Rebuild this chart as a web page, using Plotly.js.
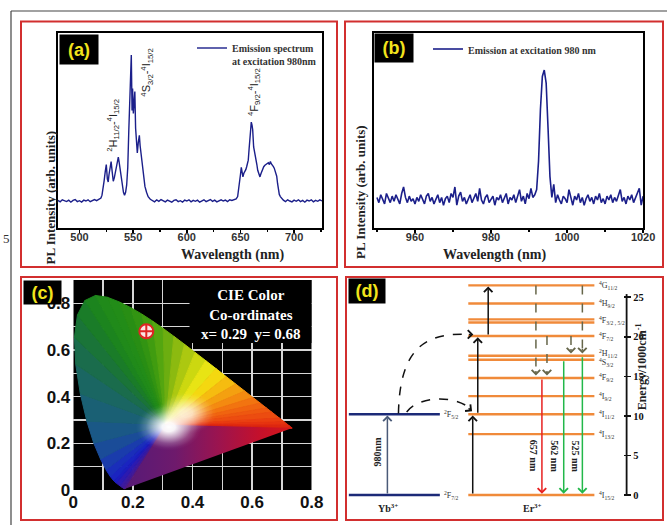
<!DOCTYPE html>
<html><head><meta charset="utf-8">
<script src="https://cdn.plot.ly/plotly-3.0.1.min.js"></script>
<style>html,body{margin:0;padding:0;background:#fff;} #chart{width:667px;height:525px;}</style>
</head><body><div id="chart"></div>
<script>
// ---------- Panel (a): upconversion emission spectrum ----------
const wavelengthA = [480,482,484,486,488,490,492,494,496,498,500,502,504,506,508,510,512,514,516,518,
  520,521,522,523,524,525,526,526.8,527.5,528.5,529.5,530.5,531.5,532.5,533.5,534.5,535.5,536.2,
  537,538,539,540,541,542,543,544,545,546,547,
  548.3,549,549.5,550.2,551,551.6,552.3,553,553.9,554.8,555.8,556.5,557.2,558,558.8,
  560,561,562.5,564,566,568,
  570,572,574,576,578,580,582,584,586,588,590,592,594,596,598,600,602,604,606,608,610,612,614,616,618,620,622,624,626,628,630,632,634,636,638,640,642,644,646,
  647.4,648.5,649.3,650,650.8,651.6,652.3,653.2,654.2,655,655.8,656.6,657.3,658.1,658.9,659.6,660.1,660.8,661.4,662.3,663,663.6,664.5,665.3,666.1,667.2,668.2,669,669.8,670.8,671.7,672.8,673.8,675,676,677,677.9,678.7,679.4,680.7,681.5,682.2,683,683.8,684.6,685.3,686.2,687.2,688.5,
  690,692,694,696,698,700,702,704,706,708,710,712,714,716,718,720,722,724,726];
const intensityA = [0.004,-0.006,0.008,0.000,-0.004,0.006,-0.008,0.004,0.010,-0.004,0.002,-0.007,0.006,0.000,0.008,-0.005,0.004,0.010,0.002,0.012,
  0.020,0.040,0.080,0.140,0.200,0.250,0.150,0.130,0.180,0.220,0.270,0.200,0.135,0.160,0.200,0.250,0.285,0.300,
  0.265,0.210,0.150,0.100,0.060,0.040,0.060,0.110,0.230,0.490,0.700,
  1.000,0.620,0.770,0.600,0.720,0.750,0.500,0.420,0.330,0.400,0.450,0.380,0.340,0.260,0.210,
  0.140,0.100,0.060,0.030,0.012,0.004,
  -0.006,0.008,-0.002,0.010,0.004,-0.006,0.006,0.000,-0.008,0.004,0.008,-0.004,0.002,-0.008,0.006,0.000,0.008,-0.006,0.004,-0.002,0.006,-0.008,0.002,0.008,-0.004,0.004,0.010,-0.002,0.006,-0.006,0.002,0.008,0.000,0.006,-0.004,0.008,0.004,0.010,0.014,
  0.030,0.080,0.120,0.180,0.230,0.190,0.165,0.190,0.200,0.215,0.235,0.255,0.280,0.360,0.440,0.520,0.540,0.520,0.490,0.370,0.345,0.330,0.290,0.250,0.210,0.180,0.165,0.185,0.200,0.225,0.235,0.245,0.250,0.255,0.262,0.250,0.270,0.255,0.250,0.235,0.225,0.210,0.190,0.170,0.120,0.075,0.045,0.030,0.015,
  0.006,-0.004,0.008,0.000,-0.006,0.006,-0.002,0.008,-0.004,0.004,-0.008,0.006,0.000,0.008,-0.006,0.004,-0.002,0.008,0.000];

// ---------- Panel (b): NIR emission ----------
const wavelengthB = [950,950.5,951,951.5,952,952.5,953,953.5,954,954.5,
  955,955.5,956,956.5,957,957.5,958,958.5,959,959.5,
  960,960.5,961,961.5,962,962.5,963,963.5,964,964.5,
  965,965.5,966,966.5,967,967.5,968,968.5,969,969.5,
  970,970.5,971,971.5,972,972.5,973,973.5,974,974.5,
  975,975.5,976,976.5,977,977.5,978,978.5,979,979.5,
  980,980.5,981,981.5,982,982.5,983,983.5,984,984.5,
  985,985.5,986,986.5,987,987.5,988,988.5,989,989.5,
  990,990.5,991,991.5,992,992.5,993,993.5,994,994.5,
  995,995.5,996,996.5,997,997.5,998,998.5,999,999.5,
  1000,1000.5,1001,1001.5,1002,1002.5,1003,1003.5,1004,1004.5,
  1005,1005.5,1006,1006.5,1007,1007.5,1008,1008.5,1009,1009.5,
  1010,1010.5,1011,1011.5,1012,1012.5,1013,1013.5,1014,1014.5,
  1015,1015.5,1016,1016.5,1017,1017.5,1018,1018.5,1019,1019.5,
  1020];
const intensityB = [0.02,-0.02,0.04,0.00,-0.03,0.05,0.01,-0.02,0.03,-0.01,
  0.04,0.00,-0.03,0.05,0.10,0.02,-0.02,0.03,-0.01,0.01,
  -0.03,0.02,-0.01,0.04,0.00,-0.03,0.03,0.05,-0.01,0.02,
  -0.03,0.01,0.04,-0.02,0.02,-0.04,0.01,0.03,-0.02,0.05,
  0.02,0.10,-0.04,0.03,0.06,-0.01,0.02,-0.03,0.00,0.04,
  -0.02,0.01,0.05,-0.01,0.09,0.00,-0.03,0.02,0.04,-0.02,
  0.01,0.03,-0.04,0.02,0.00,0.04,-0.02,0.01,0.05,-0.03,
  0.02,0.00,0.04,-0.02,0.03,0.08,-0.01,0.03,-0.03,0.05,
  0.01,0.09,0.02,0.04,0.08,0.30,0.70,0.95,1.00,0.90,
  0.55,0.18,0.02,0.12,-0.02,0.04,0.00,-0.03,0.03,0.01,
  -0.02,0.08,0.02,-0.04,0.03,0.00,0.05,-0.02,0.02,-0.04,
  0.01,0.04,-0.01,0.02,-0.03,0.03,0.00,0.05,-0.02,0.01,
  -0.03,0.03,0.00,0.04,-0.02,0.02,-0.01,0.03,0.08,-0.01,
  0.02,-0.03,0.03,0.00,0.04,-0.02,0.02,0.05,0.09,-0.04,
  0.03];

// ---------- Panel (c): CIE 1931 spectral locus and colour point ----------
const cieWavelength = [380,400,420,430,440,450,460,465,470,475,480,485,490,495,500,505,510,515,520,525,530,535,540,545,550,555,560,565,570,575,580,585,590,595,600,605,610,620,630,640,650,680,700];
const cieLocusX = [0.1741,0.1733,0.1714,0.1689,0.1644,0.1566,0.1440,0.1355,0.1241,0.1096,0.0913,0.0687,0.0454,0.0235,0.0082,0.0039,0.0139,0.0389,0.0743,0.1142,0.1547,0.1929,0.2296,0.2658,0.3016,0.3373,0.3731,0.4087,0.4441,0.4788,0.5125,0.5448,0.5752,0.6029,0.6270,0.6482,0.6658,0.6915,0.7079,0.7190,0.7260,0.7334,0.7347];
const cieLocusY = [0.0050,0.0048,0.0051,0.0069,0.0109,0.0177,0.0297,0.0399,0.0578,0.0868,0.1327,0.2007,0.2950,0.4127,0.5384,0.6548,0.7502,0.8120,0.8338,0.8262,0.8059,0.7816,0.7543,0.7243,0.6923,0.6589,0.6245,0.5896,0.5547,0.5202,0.4866,0.4544,0.4242,0.3965,0.3725,0.3514,0.3340,0.3083,0.2920,0.2809,0.2740,0.2666,0.2653];
const whitePoint = [0.31, 0.28];
const samplePointX = [0.245];
const samplePointY = [0.68];
const cieTicks = [0, 0.2, 0.4, 0.6, 0.8];

// ---------- Panel (d): energy levels (units of 1000 cm^-1) ----------
const erLevelEnergy = [0, 7.7, 10.2, 12.5, 14.8, 17.1, 17.6, 20.1, 21.8, 22.2, 24.2, 26.5];
const erLevelLabel = ['<sup>4</sup>I<sub>15/2</sub>','<sup>4</sup>I<sub>13/2</sub>','<sup>4</sup>I<sub>11/2</sub>','<sup>4</sup>I<sub>9/2</sub>','<sup>4</sup>F<sub>9/2</sub>','<sup>4</sup>S<sub>3/2</sub>','<sup>2</sup>H<sub>11/2</sub>','<sup>4</sup>F<sub>7/2</sub>','','<sup>4</sup>F<sub>3/2 , 5/2</sub>','<sup>4</sup>H<sub>9/2</sub>','<sup>4</sup>G<sub>11/2</sub>'];
const ybLevelEnergy = [0, 10.2];
const ybLevelLabel = ['<sup>2</sup>F<sub>7/2</sub>','<sup>2</sup>F<sub>5/2</sub>'];
const emissionLabel = ['657 nm','562 nm','525 nm'];
const energyTicks = [0,5,10,15,20,25];

// ---------- helpers / styles ----------
const W = 667, H = 525;
const px = v => v / W;
const py = v => 1 - v / H;
const cieColor = ['#5a1a78','#561a80','#4a1a8c','#421a96','#3a1aa0','#2c1ab0','#1c1cbe','#1a24c0','#1a2eba','#1a3cac','#1a4c98','#1a5886','#1a6074','#1a6662','#1a6c4c','#1a7438','#1a7c28','#1c841e','#208a1a','#228c18','#288e14','#329412','#409c10','#54a610','#6cae10','#8cba10','#acc810','#ccd810','#e8e414','#f4d810','#f6bc10','#f4a010','#f48a10','#f27410','#f06410','#ee5810','#ec4c10','#ea3e10','#e63410','#e22c10','#de2810','#da2410','#d82010'];
const serif = 'Liberation Serif, Times New Roman, serif';
const sans = 'Liberation Sans, Arial, sans-serif';
const navy = '#1b1f8a';
const orange = '#f08a3a';
const dashCol = '#66664a';

const data = [];
data.push({type:'scatter', mode:'lines', x:wavelengthA, y:intensityA, xaxis:'x', yaxis:'y',
  line:{color:navy, width:1.4}, name:'Emission spectrum<br>at excitation 980nm', legend:'legend'});
data.push({type:'scatter', mode:'lines', x:wavelengthB, y:intensityB, xaxis:'x2', yaxis:'y2',
  line:{color:navy, width:1.6}, name:'Emission at excitation 980 nm', legend:'legend2'});

// CIE wedges from white point to the spectral locus
for (let i = 0; i < cieLocusX.length - 1; i++) {
  data.push({type:'scatter', mode:'lines', xaxis:'x3', yaxis:'y3', showlegend:false,
    x:[whitePoint[0], cieLocusX[i], cieLocusX[i+1], whitePoint[0]],
    y:[whitePoint[1], cieLocusY[i], cieLocusY[i+1], whitePoint[1]],
    fill:'toself', fillcolor:cieColor[i], line:{color:cieColor[i], width:1}});
}
const nL = cieLocusX.length - 1;
data.push({type:'scatter', mode:'lines', xaxis:'x3', yaxis:'y3', showlegend:false,
  x:[whitePoint[0], cieLocusX[0], cieLocusX[nL], whitePoint[0]],
  y:[whitePoint[1], cieLocusY[0], cieLocusY[nL], whitePoint[1]],
  fill:'toself', line:{width:0, color:'rgba(0,0,0,0)'},
  fillgradient:{type:'horizontal', start:cieLocusX[0], stop:cieLocusX[nL],
    colorscale:[[0,'#561a78'],[0.3,'#6e1a6c'],[0.55,'#9a1450'],[0.8,'#c4102c'],[1,'#d61818']]}});
// soft white glow around the white point
function glow(cx, cy, rx, ry, a) {
  const c = f => 'rgba(255,255,255,' + (a * f).toFixed(3) + ')';
  return {type:'scatter', mode:'lines', xaxis:'x3', yaxis:'y3', showlegend:false,
    x:[cx-rx, cx+rx, cx+rx, cx-rx, cx-rx], y:[cy-ry, cy-ry, cy+ry, cy+ry, cy-ry],
    fill:'toself', line:{width:0, color:'rgba(0,0,0,0)'},
    fillgradient:{type:'radial', colorscale:[[0,c(1)],[0.2,c(0.95)],[0.45,c(0.6)],[0.7,c(0.22)],[0.9,c(0.04)],[1,c(0)]]}};
}
data.push(glow(whitePoint[0]+0.01, whitePoint[1]-0.01, 0.11, 0.1, 1));
data.push(glow(whitePoint[0]+0.07, whitePoint[1]+0.05, 0.1, 0.09, 0.75));
data.push({type:'scatter', mode:'markers', xaxis:'x3', yaxis:'y3', showlegend:false,
  x:samplePointX, y:samplePointY,
  marker:{symbol:'circle-cross', size:14, color:'#fbe4e4', line:{color:'#e02424', width:2}}});

// Energy levels
const erX0 = 38.7, erX1 = 78.6, ybX0 = 0.9, ybX1 = 29.7;
const erLx = [], erLy = [];
erLevelEnergy.forEach(e => { erLx.push(erX0, erX1, null); erLy.push(e, e, null); });
const ybLx = [], ybLy = [];
ybLevelEnergy.forEach(e => { ybLx.push(ybX0, ybX1, null); ybLy.push(e, e, null); });
data.push({type:'scatter', mode:'lines', xaxis:'x4', yaxis:'y4', showlegend:false, x:erLx, y:erLy, line:{color:orange, width:2.4}});
data.push({type:'scatter', mode:'lines', xaxis:'x4', yaxis:'y4', showlegend:false, x:ybLx, y:ybLy, line:{color:'#1c2a78', width:2.4}});

// ---------- annotations ----------
const ann = [];
function panelLabel(t, x0, y0, w, h) {
  ann.push({xref:'paper', yref:'paper', x:px(x0), y:py(y0), xanchor:'left', yanchor:'top',
    text:'<b>'+t+'</b>', showarrow:false, bgcolor:'#000', width:w, height:h, borderpad:0,
    font:{family:sans, size:18, color:'#f2e41c'}});
}
panelLabel('(a)', 59, 34, 38, 29);
panelLabel('(b)', 374, 33, 38, 28);
panelLabel('(c)', 23, 280, 37, 23);
panelLabel('(d)', 348, 278, 36, 24);

function txt(o) { ann.push(Object.assign({showarrow:false, xref:'paper', yref:'paper'}, o)); }
// axis titles
txt({x:px(40), y:py(129), textangle:-90, text:'<b>PL Intensity (arb. units)</b>', font:{family:serif, size:13, color:'#222'}});
txt({x:px(360), y:py(123), textangle:-90, text:'<b>PL Intensity (arb. units)</b>', font:{family:serif, size:13, color:'#222'}});
txt({x:px(179), y:py(255), text:'<b>Wavelength (nm)</b>', font:{family:serif, size:14, color:'#222'}});
txt({x:px(548), y:py(255), text:'<b>Wavelength (nm)</b>', font:{family:serif, size:14, color:'#222'}});
// transition labels in (a)
const trFont = {family:sans, size:11, color:'#222'};
ann.push({xref:'x', yref:'y', x:531.8, y:0.52, textangle:-90, showarrow:false, font:trFont, text:'<sup>2</sup>H<sub>11/2</sub>-<sup>4</sup>I<sub>15/2</sub>'});
ann.push({xref:'x', yref:'y', x:562.6, y:0.877, textangle:-90, showarrow:false, font:trFont, text:'<sup>4</sup>S<sub>3/2</sub>-<sup>4</sup>I<sub>15/2</sub>'});
ann.push({xref:'x', yref:'y', x:662.6, y:0.747, textangle:-90, showarrow:false, font:trFont, text:'<sup>4</sup>F<sub>9/2</sub>-<sup>4</sup>I<sub>15/2</sub>'});
// CIE text
txt({x:px(251), y:py(314), text:'<b>CIE Color<br>Co-ordinates<br>x= 0.29\u00a0\u00a0y= 0.68</b>', font:{family:serif, size:15, color:'#fff'}});
// side "5"
txt({x:px(1), y:py(238), xanchor:'left', text:'5', font:{family:serif, size:13, color:'#333'}});

// panel (d) texts
const levFont = {family:serif, size:8, color:'#333'};
const labelShift = [0,0,0,0,0,-0.35,0.3,0,0,-0.1,0,0];
erLevelEnergy.forEach((e, i) => {
  if (erLevelLabel[i]) ann.push({xref:'x4', yref:'y4', x:79.4, y:e + labelShift[i], xanchor:'left', showarrow:false, text:erLevelLabel[i], font:levFont});
});
ybLevelEnergy.forEach((e, i) => {
  ann.push({xref:'x4', yref:'y4', x:30.3, y:e, xanchor:'left', showarrow:false, text:ybLevelLabel[i], font:levFont});
});
ann.push({xref:'x4', yref:'y4', x:13.3, y:-1.6, showarrow:false, text:'<b>Yb<sup>3+</sup></b>', font:{family:serif, size:10, color:'#222'}});
ann.push({xref:'x4', yref:'y4', x:58.9, y:-1.6, showarrow:false, text:'<b>Er<sup>3+</sup></b>', font:{family:serif, size:10, color:'#222'}});
ann.push({xref:'x4', yref:'y4', x:10.1, y:5.5, textangle:-90, showarrow:false, text:'<b>980nm</b>', font:{family:serif, size:10, color:'#222'}});
const emX = [59.3, 66.1, 72.7];
emissionLabel.forEach((t, i) => ann.push({xref:'x4', yref:'y4', x:emX[i], y:4.9, textangle:90, showarrow:false, text:'<b>'+t+'</b>', font:{family:serif, size:10, color:'#222'}}));
// energy axis title (placed by energy value so it sits beside the 10-20 ticks)
ann.push({xref:'paper', yref:'y4', x:px(651), y:16.2, textangle:-90, showarrow:false, text:'<b>Energy/1000cm<sup>-1</sup></b>', font:{family:serif, size:12, color:'#222'}});

function arrow(x, yTail, yHead, color) {
  ann.push({xref:'x4', yref:'y4', axref:'x4', ayref:'y4', x:x, y:yHead, ax:x, ay:yTail, text:'', showarrow:true,
    arrowhead:4, arrowsize:1.1, arrowwidth:1.5, arrowcolor:color});
}
arrow(13.1, ybLevelEnergy[0], ybLevelEnergy[1] - 0.15, '#4a5a78');
arrow(40.1, erLevelEnergy[0], erLevelEnergy[2] - 0.15, '#111');
arrow(41.7, erLevelEnergy[2], erLevelEnergy[7] - 0.15, '#111');
arrow(45.0, erLevelEnergy[7], erLevelEnergy[11] - 0.15, '#111');
arrow(62.0, erLevelEnergy[4], 0.15, '#e82222');
arrow(68.9, erLevelEnergy[5], 0.15, '#22b84a');
arrow(74.8, erLevelEnergy[6], 0.15, '#22b84a');

const shapes = [];
function dashArrow(x, yTop, yBot) {
  shapes.push({type:'line', xref:'x4', yref:'y4', x0:x, x1:x, y0:yTop, y1:yBot + 0.3, line:{color:dashCol, width:1.5, dash:'dash'}});
  ann.push({xref:'x4', yref:'y4', x:x, y:yBot + 0.1, ax:0, ay:-6, text:'', showarrow:true, arrowhead:4, arrowsize:1.1, arrowwidth:1.5, arrowcolor:dashCol});
}
dashArrow(60.1, erLevelEnergy[11], erLevelEnergy[4] + 0.2);
dashArrow(63.6, erLevelEnergy[7], erLevelEnergy[4] + 0.2);
dashArrow(71.2, erLevelEnergy[7], erLevelEnergy[6] + 0.2);
dashArrow(74.8, erLevelEnergy[11], erLevelEnergy[6] + 0.2);
// energy-transfer curves
shapes.push({type:'path', xref:'x4', yref:'y4', path:'M16.6,10.3 C17,19 26,20.6 39.6,20.3', line:{color:'#111', width:1.5, dash:'dash'}});
ann.push({xref:'x4', yref:'y4', x:40.3, y:20.3, ax:-6, ay:0, text:'', showarrow:true, arrowhead:4, arrowsize:1.1, arrowwidth:1.5, arrowcolor:'#111'});
shapes.push({type:'path', xref:'x4', yref:'y4', path:'M19.2,10.5 C23,12.6 35,12.6 39.3,10.9', line:{color:'#111', width:1.5, dash:'dash'}});
ann.push({xref:'x4', yref:'y4', x:39.9, y:10.6, ax:-5, ay:-4, text:'', showarrow:true, arrowhead:4, arrowsize:1.1, arrowwidth:1.5, arrowcolor:'#111'});
// energy axis line
shapes.push({type:'line', xref:'x4', yref:'y4', x0:88.8, x1:88.8, y0:0, y1:25.4, line:{color:'#111', width:1.8}});

// CIE black background and text box
shapes.push({type:'rect', xref:'x3', yref:'y3', x0:0, x1:0.8, y0:0, y1:0.9, fillcolor:'#000', line:{width:0}, layer:'below'});
shapes.push({type:'rect', xref:'x3', yref:'y3', x0:0.39, x1:0.8, y0:0.63, y1:0.9, fillcolor:'#000', line:{width:0}, layer:'between'});

// red panel frames and outer black frame
const red = '#d22f2f';
[[21,21.5,337,267],[345,21.5,663,267],[21,277,337,520],[346,277,663,520]].forEach(b => {
  shapes.push({type:'rect', xref:'paper', yref:'paper', x0:px(b[0]), x1:px(b[2]), y0:py(b[3]), y1:py(b[1]), line:{color:red, width:2}});
});
shapes.push({type:'line', xref:'paper', yref:'paper', x0:px(11), x1:1, y0:py(11), y1:py(11), line:{color:'#444', width:1.2}});
shapes.push({type:'line', xref:'paper', yref:'paper', x0:px(11), x1:px(11), y0:py(11), y1:0, line:{color:'#444', width:1.2}});

// ---------- axes ----------
const tickFontAB = {family:sans, size:11, color:'#333', weight:'bold'};
function specX(domain, range, dtick, mdtick) {
  return {domain:domain, range:range, showline:true, mirror:true, linecolor:'#000', linewidth:2,
    ticks:'outside', ticklen:3, tickwidth:1.5, tickcolor:'#000', dtick:dtick, tick0:0, ticklabelstandoff:-5,
    minor:{dtick:mdtick, tick0:0, ticks:'outside', ticklen:2, tickwidth:1.2, tickcolor:'#000'},
    tickfont:tickFontAB, showgrid:false, zeroline:false};
}
function specY(domain, range) {
  return {domain:domain, range:range, showline:true, mirror:true, linecolor:'#000', linewidth:2,
    ticks:'', showticklabels:false, showgrid:false, zeroline:false};
}
const xa = specX([px(58), px(322)], [480, 726], 50, 25); xa.anchor = 'y';
const ya = specY([py(228), py(33)], [-0.185, 1.151]); ya.anchor = 'x';
const xb = specX([px(374.3), px(643.3)], [949.3, 1020.05], 20, 10); xb.anchor = 'y2';
const yb = specY([py(227.7), py(32.7)], [-0.213, 1.287]); yb.anchor = 'x2';

const cieTickText = cieTicks.map(v => String(v));
const gridC = '#d6d6d6';
const xc = {domain:[px(73.3), px(311.7)], range:[0, 0.8], anchor:'y3', tickvals:cieTicks, ticktext:cieTickText,
  showgrid:true, gridcolor:gridC, gridwidth:1.5, minor:{dtick:0.1, tick0:0, showgrid:true, gridcolor:gridC, gridwidth:1.5},
  ticks:'', showline:false, zeroline:false, tickfont:{family:sans, size:17, color:'#111', weight:'bold'}};
const yc = {domain:[py(490), py(280)], range:[0, 0.9], anchor:'x3', tickvals:cieTicks, ticktext:cieTickText,
  showgrid:true, gridcolor:gridC, gridwidth:1.5, minor:{dtick:0.1, tick0:0, showgrid:true, gridcolor:gridC, gridwidth:1.5},
  ticks:'', showline:false, zeroline:false, tickfont:{family:sans, size:17, color:'#111', weight:'bold'}, ticklabelstandoff:2};

const xd = {domain:[px(346), px(662)], range:[0, 100], anchor:'y4', visible:false};
const yd = {domain:[py(510), py(280)], range:[-1.896, 27.18], anchor:'free', position:px(623.2), side:'right',
  showline:false, ticks:'outside', ticklen:7, tickwidth:1.5, tickcolor:'#111', tickvals:energyTicks,
  tickfont:{family:serif, size:10.5, color:'#111', weight:'bold'}, showgrid:false, zeroline:false};

const legendFont = {family:serif, size:10, color:'#333', weight:'bold'};
const layout = {
  width:W, height:H, margin:{l:0, r:0, t:0, b:0}, paper_bgcolor:'#fff', plot_bgcolor:'#fff',
  hovermode:false, showlegend:true,
  xaxis:xa, yaxis:ya, xaxis2:xb, yaxis2:yb, xaxis3:xc, yaxis3:yc, xaxis4:xd, yaxis4:yd,
  legend:{x:px(192), y:py(35), xanchor:'left', yanchor:'top', bgcolor:'rgba(0,0,0,0)', font:legendFont, valign:'top', itemwidth:30, borderwidth:0},
  legend2:{x:px(428), y:py(36), xanchor:'left', yanchor:'top', bgcolor:'rgba(0,0,0,0)', font:legendFont, valign:'top', itemwidth:30, borderwidth:0},
  annotations:ann, shapes:shapes
};
Plotly.newPlot('chart', data, layout, {displayModeBar:false, staticPlot:true});
</script></body></html>
